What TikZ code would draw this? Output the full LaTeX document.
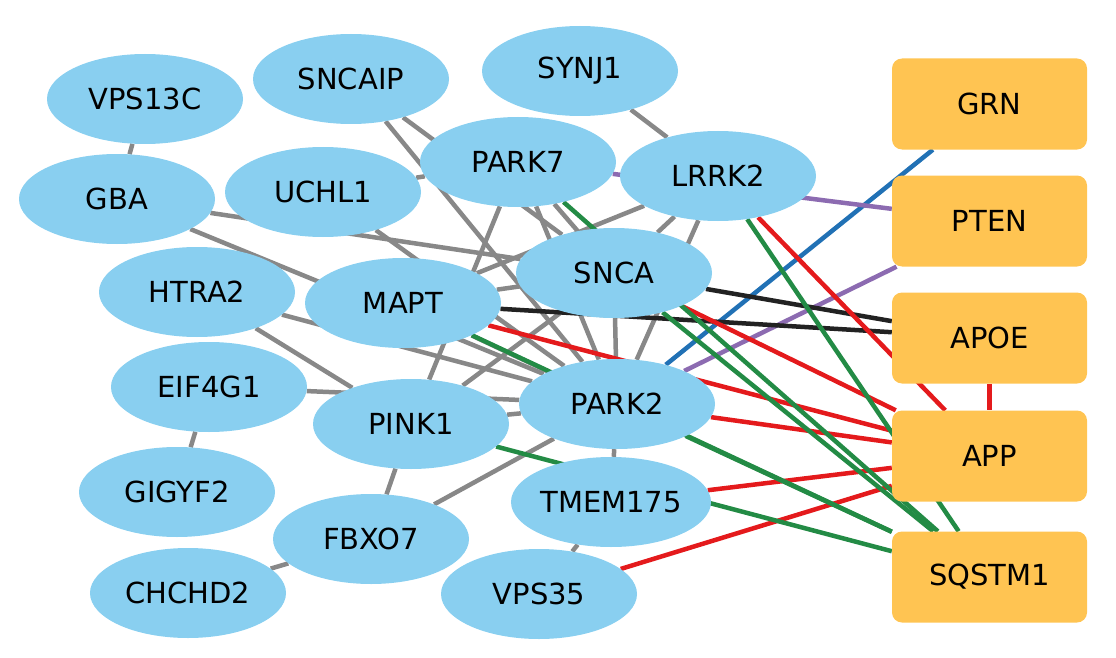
\documentclass[tikz,border=0pt]{standalone}
\usepackage{fontspec}
\setmainfont{DejaVu Sans}
\usetikzlibrary{shapes.geometric,backgrounds}
\definecolor{gnode}{RGB}{137,207,240}
\definecolor{dnode}{RGB}{255,196,82}
\definecolor{egray}{RGB}{136,136,136}
\definecolor{ered}{RGB}{228,26,28}
\definecolor{egreen}{RGB}{35,139,69}
\definecolor{eblue}{RGB}{33,113,181}
\definecolor{epurple}{RGB}{140,107,177}
\definecolor{eblack}{RGB}{34,34,34}
\begin{document}
\begin{tikzpicture}[x=1pt,y=-1pt,
  gene/.style={ellipse,fill=gnode,minimum width=196pt,minimum height=90pt,inner sep=0pt,
    font=\fontsize{29}{35}\selectfont},
  disease/.style={rectangle,rounded corners=10pt,fill=dnode,minimum width=195pt,minimum height=91pt,
    inner sep=0pt,font=\fontsize{29}{35}\selectfont},
  gline/.style={draw=egray,line width=4.5pt},
  rline/.style={draw=ered,line width=4.5pt},
  grline/.style={draw=egreen,line width=4.5pt},
  bline/.style={draw=eblue,line width=4.5pt},
  pline/.style={draw=epurple,line width=4.5pt},
  kline/.style={draw=eblack,line width=4.5pt}]
\useasboundingbox (0,0) rectangle (1116,658);
% gene nodes
\node[gene] (VPS13C) at (145,99) {VPS13C};
\node[gene] (SNCAIP) at (351,79) {SNCAIP};
\node[gene] (SYNJ1) at (580,71) {SYNJ1};
\node[gene] (GBA) at (117,199) {GBA};
\node[gene] (UCHL1) at (323,192) {UCHL1};
\node[gene] (PARK7) at (518,162) {PARK7};
\node[gene] (LRRK2) at (718,176) {LRRK2};
\node[gene] (HTRA2) at (197,292) {HTRA2};
\node[gene] (MAPT) at (403,303) {MAPT};
\node[gene] (SNCA) at (614,273) {SNCA};
\node[gene] (EIF4G1) at (209,387) {EIF4G1};
\node[gene] (PINK1) at (411,424) {PINK1};
\node[gene] (PARK2) at (617,404) {PARK2};
\node[gene] (GIGYF2) at (177,492) {GIGYF2};
\node[gene] (TMEM175) at (611,502) {TMEM175};
\node[gene] (FBXO7) at (371,539) {FBXO7};
\node[gene] (CHCHD2) at (188,593) {CHCHD2};
\node[gene] (VPS35) at (539,594) {VPS35};
% disease nodes
\node[disease] (GRN) at (989.5,104) {GRN};
\node[disease] (PTEN) at (989.5,221) {PTEN};
\node[disease] (APOE) at (989.5,338) {APOE};
\node[disease] (APP) at (989.5,456) {APP};
\node[disease] (SQSTM1) at (989.5,577) {SQSTM1};
\begin{scope}[on background layer]
% gray gene-gene edges
\draw[gline] (VPS13C) -- (GBA);
\draw[gline] (EIF4G1) -- (GIGYF2);
\draw[gline] (CHCHD2) -- (FBXO7);
\draw[gline] (FBXO7) -- (PINK1);
\draw[gline] (FBXO7) -- (PARK2);
\draw[gline] (TMEM175) -- (VPS35);
\draw[gline] (PARK2) -- (TMEM175);
\draw[gline] (SYNJ1) -- (LRRK2);
\draw[gline] (SNCAIP) -- (PARK2);
\draw[gline] (SNCAIP) -- (SNCA);
\draw[gline] (UCHL1) -- (PARK7);
\draw[gline] (UCHL1) -- (PARK2);
\draw[gline] (GBA) -- (SNCA);
\draw[gline] (GBA) -- (PARK2);
\draw[gline] (HTRA2) -- (PINK1);
\draw[gline] (HTRA2) -- (PARK2);
\draw[gline] (EIF4G1) -- (PARK2);
\draw[gline] (PINK1) -- (PARK2);
\draw[gline] (MAPT) -- (PARK2);
\draw[gline] (MAPT) -- (SNCA);
\draw[gline] (LRRK2) -- (MAPT);
\draw[gline] (LRRK2) -- (SNCA);
\draw[gline] (LRRK2) -- (PARK2);
\draw[gline] (PARK7) -- (PINK1);
\draw[gline] (PARK7) -- (PARK2);
\draw[gline] (PARK7) -- (SNCA);
\draw[gline] (SNCA) -- (PARK2);
\draw[gline] (SNCA) -- (PINK1);
% coloured edges to disease nodes
\draw[bline] (PARK2) -- (GRN);
\draw[pline] (PARK7) -- (PTEN);
\draw[pline] (PARK2) -- (PTEN);
\draw[kline] (SNCA) -- (APOE);
\draw[kline] (MAPT) -- (APOE);
\draw[rline] (APOE) -- (APP);
\draw[rline] (LRRK2) -- (APP);
\draw[rline] (SNCA) -- (APP);
\draw[rline] (MAPT) -- (APP);
\draw[rline] (PARK2) -- (APP);
\draw[rline] (TMEM175) -- (APP);
\draw[rline] (VPS35) -- (APP);
\draw[grline] (LRRK2) -- (SQSTM1);
\draw[grline] (PARK7) -- (SQSTM1);
\draw[grline] (SNCA) -- (SQSTM1);
\draw[grline] (MAPT) -- (SQSTM1);
\draw[grline] (PARK2) -- (SQSTM1);
\draw[grline] (PINK1) -- (SQSTM1);
\end{scope}
\end{tikzpicture}
\end{document}
